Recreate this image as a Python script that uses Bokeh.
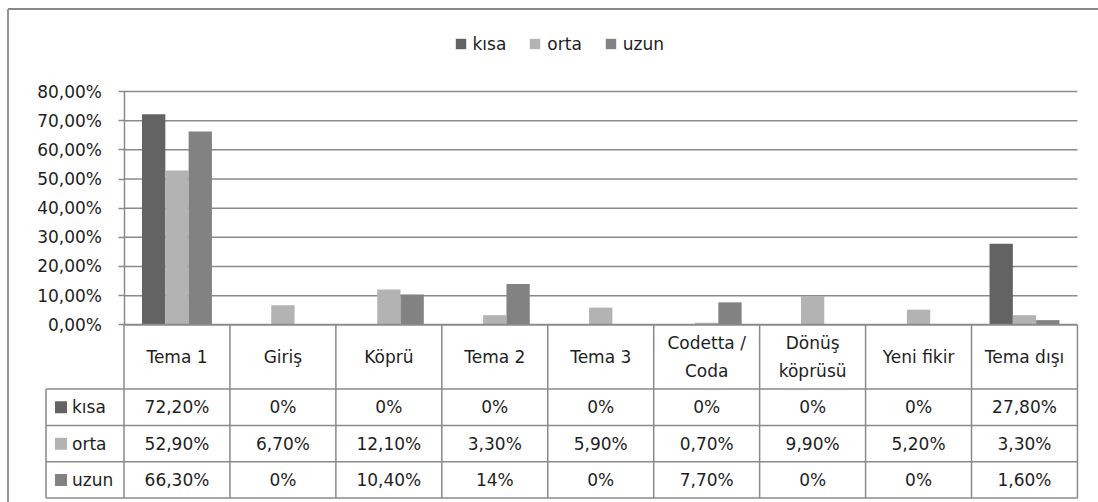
from bokeh.plotting import figure
from bokeh.models import ColumnDataSource, LinearAxis, FixedTicker, Legend, LegendItem, Range1d
from bokeh.transform import dodge
from bokeh.core.properties import value
from bokeh.embed import file_html
from bokeh.resources import INLINE

# ---------------- data ----------------
categories = ["Tema 1", "Giriş", "Köprü", "Tema 2", "Tema 3",
              "Codetta /\nCoda", "Dönüş\nköprüsü", "Yeni fikir", "Tema dışı"]
series = ["kısa", "orta", "uzun"]
kisa = [72.2, 0, 0, 0, 0, 0, 0, 0, 27.8]
orta = [52.9, 6.7, 12.1, 3.3, 5.9, 0.7, 9.9, 5.2, 3.3]
uzun = [66.3, 0, 10.4, 14, 0, 7.7, 0, 0, 1.6]
y_ticks = [0, 10, 20, 30, 40, 50, 60, 70, 80]
y_tick_labels = ["0,00%", "10,00%", "20,00%", "30,00%", "40,00%",
                 "50,00%", "60,00%", "70,00%", "80,00%"]
colors = ["#636363", "#b3b3b3", "#828282"]

FONT = "DejaVu Sans"
FS = "17px"
TXT = "#1e1e1e"
LINE = "#8a8a8a"

# ---------------- geometry (figure pixels) ----------------
W, H = 1098, 502
AX_X = 123.5        # x pixel of category 0 edge / y axis
X_UNIT = 105.94     # pixels per category
ZERO_Y = 324.3      # y pixel of 0 %
Y_UNIT = 2.916      # pixels per percent


def px_x(px):
    return (px - AX_X) / X_UNIT


def px_y(py):
    return (ZERO_Y - py) / Y_UNIT


p = figure(width=W, height=H, output_backend="svg", toolbar_location=None, tools="",
           x_range=Range1d(px_x(0), px_x(W)), y_range=Range1d(px_y(H), px_y(0)),
           x_axis_location=None, y_axis_location=None, min_border=0,
           background_fill_color="white", border_fill_color="white")
p.outline_line_color = None
p.xgrid.visible = False
p.ygrid.visible = False

n = len(categories)
xs = [i + 0.5 for i in range(n)]

# outer frame (top and left edges)
p.segment(x0=[px_x(7.5), px_x(7.5)], y0=[px_y(8.5), px_y(8.5)],
          x1=[px_x(W), px_x(7.5)], y1=[px_y(8.5), px_y(H)],
          line_color=LINE, line_width=1.8)

# gridlines
grid_t = [t for t in y_ticks if t > 0]
p.segment(x0=[0] * len(grid_t), x1=[n] * len(grid_t), y0=grid_t, y1=grid_t,
          line_color=LINE, line_width=1.5)

# bars
src = ColumnDataSource(dict(x=xs, kisa=kisa, orta=orta, uzun=uzun))
bw = 0.22
renderers = []
for k, (col, off) in enumerate(zip(["kisa", "orta", "uzun"], [-bw, 0, bw])):
    r = p.vbar(x=dodge("x", off, range=p.x_range), top=col, bottom=0, width=bw,
               source=src, fill_color=colors[k], line_color=None)
    renderers.append(r)

# y axis
yax = LinearAxis(fixed_location=0, bounds=(0, 80), ticker=FixedTicker(ticks=y_ticks),
                 major_label_overrides={t: l for t, l in zip(y_ticks, y_tick_labels)})
yax.axis_line_color = LINE
yax.axis_line_width = 1.5
yax.major_tick_line_color = LINE
yax.major_tick_line_width = 1.5
yax.major_tick_out = 6
yax.major_tick_in = 0
yax.minor_tick_line_color = None
yax.major_label_standoff = 16
yax.major_label_text_font = FONT
yax.major_label_text_font_size = FS
yax.major_label_text_color = TXT
p.add_layout(yax, "left")

# ---------------- data table ----------------
hdr_bot = px_y(388.5)
row_edges = [hdr_bot, px_y(425.0), px_y(461.3), px_y(497.5)]
leg_left = px_x(45.5)

# zero line / table top
p.segment(x0=[0], x1=[n], y0=[0], y1=[0], line_color=LINE, line_width=2)
# vertical lines
p.segment(x0=list(range(n + 1)), x1=list(range(n + 1)),
          y0=[0] * (n + 1), y1=[row_edges[-1]] * (n + 1),
          line_color=LINE, line_width=1.5)
p.segment(x0=[leg_left], x1=[leg_left], y0=[hdr_bot], y1=[row_edges[-1]],
          line_color=LINE, line_width=1.5)
# horizontal lines
p.segment(x0=[leg_left] * len(row_edges), x1=[n] * len(row_edges),
          y0=row_edges, y1=row_edges, line_color=LINE, line_width=1.5)

# header labels
p.text(x=xs, y=[hdr_bot / 2] * n, text=categories, text_align="center",
       text_baseline="middle", text_font=value(FONT), text_font_size=value(FS),
       text_color=TXT, text_line_height=1.4)


def fmt(v):
    if float(v).is_integer():
        return f"{int(v)}%"
    return f"{v:.2f}%".replace(".", ",")


for k, vals in enumerate([kisa, orta, uzun]):
    yc = (row_edges[k] + row_edges[k + 1]) / 2
    p.text(x=xs, y=[yc] * n, text=[fmt(v) for v in vals], text_align="center",
           text_baseline="middle", text_font=value(FONT), text_font_size=value(FS),
           text_color=TXT)
    p.scatter(x=[px_x(60.5)], y=[yc], marker="square", size=12,
              fill_color=colors[k], line_color=None)
    p.text(x=[px_x(71.5)], y=[yc], text=[series[k]], text_align="left",
           text_baseline="middle", text_font=value(FONT), text_font_size=value(FS),
           text_color=TXT)

# legend
legend = Legend(items=[LegendItem(label=s, renderers=[r]) for s, r in zip(series, renderers)],
                orientation="horizontal", location=(453.5, 448.5),
                border_line_color=None, background_fill_alpha=0, padding=0, margin=0,
                spacing=22, label_standoff=6, glyph_width=13, glyph_height=13,
                label_text_font=FONT, label_text_font_size=FS, label_text_color=TXT)
p.add_layout(legend, "center")

open("out.html", "w").write(file_html(p, INLINE))
